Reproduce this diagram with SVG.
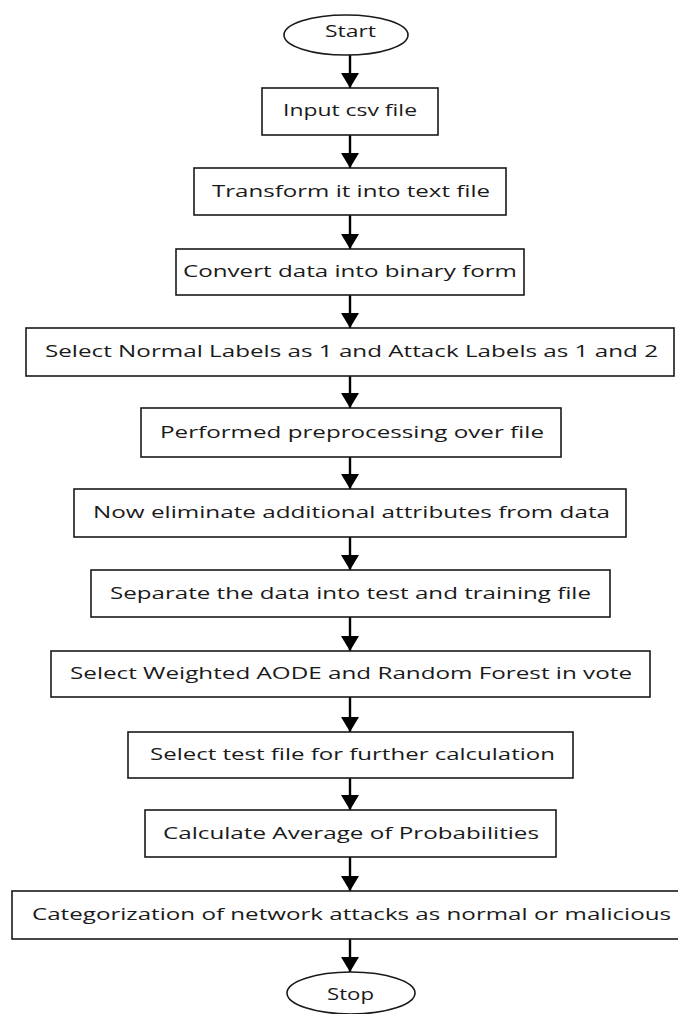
<svg xmlns="http://www.w3.org/2000/svg" width="678" height="1014" viewBox="0 0 678 1014">
<defs>
<style>
.box{fill:#fff;stroke:#1a1a1a;stroke-width:1.6}
.term{fill:#fff;stroke:#1a1a1a;stroke-width:1.6}
.lbl{font-family:"Open Sans","Noto Sans",sans-serif;font-size:16.5px;fill:#1a1a1a;text-anchor:middle}
.conn{stroke:#000;stroke-width:2.4;fill:none;marker-end:url(#ah)}
</style>
<marker id="ah" markerUnits="userSpaceOnUse" markerWidth="16" markerHeight="18" refX="15" refY="9" orient="auto">
<path d="M0,0 L15,9 L0,18 Z" fill="#000"/>
</marker>
</defs>
<rect width="678" height="1014" fill="#fff"/>
<g id="connectors">
<line class="conn" x1="350" y1="55" x2="350" y2="88"/>
<line class="conn" x1="350" y1="135" x2="350" y2="168"/>
<line class="conn" x1="350" y1="215" x2="350" y2="249"/>
<line class="conn" x1="350" y1="295" x2="350" y2="328"/>
<line class="conn" x1="350" y1="376" x2="350" y2="408"/>
<line class="conn" x1="350" y1="457" x2="350" y2="489"/>
<line class="conn" x1="350" y1="537" x2="350" y2="570"/>
<line class="conn" x1="350" y1="617" x2="350" y2="651"/>
<line class="conn" x1="350" y1="697" x2="350" y2="732"/>
<line class="conn" x1="350" y1="778" x2="350" y2="810"/>
<line class="conn" x1="350" y1="857" x2="350" y2="891"/>
<line class="conn" x1="350" y1="939" x2="350" y2="972"/>
</g>
<g id="start">
<ellipse class="term" cx="346" cy="35" rx="62" ry="20"/>
<text class="lbl" x="350.5" y="37" textLength="51" lengthAdjust="spacingAndGlyphs">Start</text>
</g>
<g id="n1">
<rect class="box" x="262" y="88" width="176" height="47"/>
<text class="lbl" x="350" y="116" textLength="134" lengthAdjust="spacingAndGlyphs">Input csv file</text>
</g>
<g id="n2">
<rect class="box" x="194" y="168" width="312" height="47"/>
<text class="lbl" x="351" y="197" textLength="278" lengthAdjust="spacingAndGlyphs">Transform it into text file</text>
</g>
<g id="n3">
<rect class="box" x="176" y="249" width="348" height="46"/>
<text class="lbl" x="350" y="277" textLength="334" lengthAdjust="spacingAndGlyphs">Convert data into binary form</text>
</g>
<g id="n4">
<rect class="box" x="26" y="328" width="648" height="48"/>
<text class="lbl" x="351.5" y="357" textLength="613" lengthAdjust="spacingAndGlyphs">Select Normal Labels as 1 and Attack Labels as 1 and 2</text>
</g>
<g id="n5">
<rect class="box" x="141" y="408" width="420" height="49"/>
<text class="lbl" x="352" y="438" textLength="384" lengthAdjust="spacingAndGlyphs">Performed preprocessing over file</text>
</g>
<g id="n6">
<rect class="box" x="74" y="489" width="552" height="48"/>
<text class="lbl" x="351.5" y="518" textLength="517" lengthAdjust="spacingAndGlyphs">Now eliminate additional attributes from data</text>
</g>
<g id="n7">
<rect class="box" x="91" y="570" width="519" height="47"/>
<text class="lbl" x="350.5" y="599" textLength="481" lengthAdjust="spacingAndGlyphs">Separate the data into test and training file</text>
</g>
<g id="n8">
<rect class="box" x="51" y="651" width="599" height="46"/>
<text class="lbl" x="351" y="679" textLength="562" lengthAdjust="spacingAndGlyphs">Select Weighted AODE and Random Forest in vote</text>
</g>
<g id="n9">
<rect class="box" x="128" y="732" width="445" height="46"/>
<text class="lbl" x="352.5" y="760" textLength="405" lengthAdjust="spacingAndGlyphs">Select test file for further calculation</text>
</g>
<g id="n10">
<rect class="box" x="145" y="810" width="411" height="47"/>
<text class="lbl" x="351" y="839" textLength="376" lengthAdjust="spacingAndGlyphs">Calculate Average of Probabilities</text>
</g>
<g id="n11">
<rect class="box" x="12" y="891" width="676" height="48"/>
<text class="lbl" x="351.5" y="920" textLength="639" lengthAdjust="spacingAndGlyphs">Categorization of network attacks as normal or malicious</text>
</g>
<g id="stop">
<ellipse class="term" cx="351" cy="993" rx="64" ry="21"/>
<text class="lbl" x="350.5" y="1000" textLength="47" lengthAdjust="spacingAndGlyphs">Stop</text>
</g>
</svg>
